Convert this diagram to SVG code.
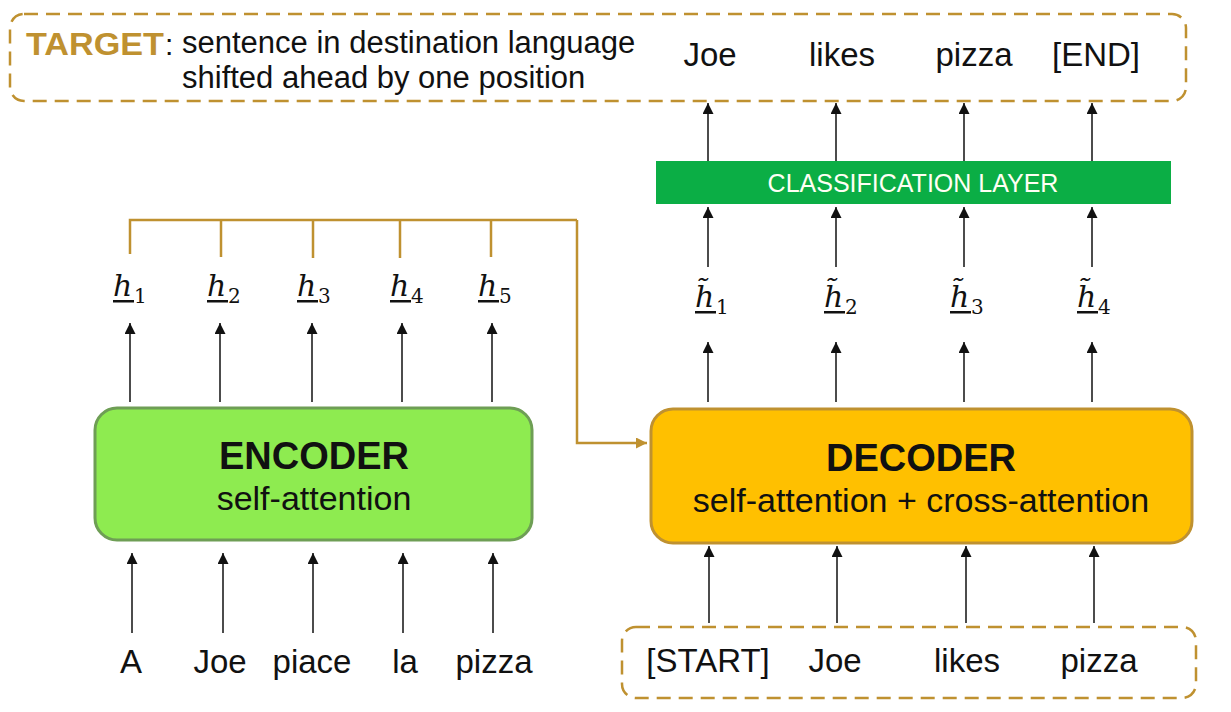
<svg xmlns="http://www.w3.org/2000/svg" width="1231" height="712" viewBox="0 0 1231 712">
<defs>
<style>
.t{font-family:"Liberation Sans",Arial,sans-serif;fill:#111;}
.w{font-size:33px;text-anchor:middle;}
.b{font-weight:bold;font-size:38px;text-anchor:middle;}
.s{font-size:34px;text-anchor:middle;}
.h{font-family:"DejaVu Serif","Liberation Serif",serif;font-style:italic;font-size:30px;fill:#111;}
.sub{font-family:"DejaVu Serif","Liberation Serif",serif;font-size:20px;fill:#111;}
.ar{stroke:#111;stroke-width:1.5;fill:none;marker-end:url(#ah);}
.gold{stroke:#BF9130;stroke-width:2.5;fill:none;}
.dash{fill:none;stroke:#BF9130;stroke-width:2.5;stroke-dasharray:14 8;}
</style>
<marker id="ah" markerUnits="userSpaceOnUse" markerWidth="12" markerHeight="11" refX="11" refY="5.5" orient="auto"><path d="M0,0 L11,5.5 L0,11 z" fill="#111"/></marker>
<marker id="gh" markerUnits="userSpaceOnUse" markerWidth="12" markerHeight="11" refX="11" refY="5.5" orient="auto"><path d="M0,0 L11,5.5 L0,11 z" fill="#BF9130"/></marker>
</defs>
<rect width="1231" height="712" fill="#fff"/>

<g id="target">
<rect class="dash" x="10" y="14" width="1176" height="87" rx="14"/>
<text x="26" y="55" font-family="Liberation Sans,Arial,sans-serif" font-weight="bold" font-size="32" fill="#BF9130" textLength="138" lengthAdjust="spacingAndGlyphs">TARGET</text>
<text class="t" x="165" y="55" font-size="30">:</text>
<text class="t" x="182" y="53" font-size="31">sentence in destination language</text>
<text class="t" x="182" y="88" font-size="31">shifted ahead by one position</text>
<text class="t w" x="710" y="66">Joe</text>
<text class="t w" x="842" y="66">likes</text>
<text class="t w" x="974" y="66">pizza</text>
<text class="t w" x="1096" y="66">[END]</text>
</g>

<g id="classification">
<rect x="656" y="161" width="515" height="43" fill="#0BAE45"/>
<text x="913" y="192" font-family="Liberation Sans,Arial,sans-serif" font-size="25" fill="#FFFFF4" text-anchor="middle">CLASSIFICATION LAYER</text>
</g>

<g id="htilde">
<text class="h" x="695" y="307">h&#x303;</text><text class="sub" x="716" y="314">1</text><rect x="695" y="311" width="21" height="2.5" fill="#111"/>
<text class="h" x="824" y="307">h&#x303;</text><text class="sub" x="845" y="314">2</text><rect x="824" y="311" width="21" height="2.5" fill="#111"/>
<text class="h" x="950" y="307">h&#x303;</text><text class="sub" x="971" y="314">3</text><rect x="950" y="311" width="21" height="2.5" fill="#111"/>
<text class="h" x="1077" y="307">h&#x303;</text><text class="sub" x="1098" y="314">4</text><rect x="1077" y="311" width="21" height="2.5" fill="#111"/>
</g>

<g id="hlabels">
<text class="h" x="113" y="296">h</text><text class="sub" x="134" y="303">1</text><rect x="113" y="300" width="21" height="2.5" fill="#111"/>
<text class="h" x="207" y="296">h</text><text class="sub" x="228" y="303">2</text><rect x="207" y="300" width="21" height="2.5" fill="#111"/>
<text class="h" x="297" y="296">h</text><text class="sub" x="318" y="303">3</text><rect x="297" y="300" width="21" height="2.5" fill="#111"/>
<text class="h" x="390" y="296">h</text><text class="sub" x="411" y="303">4</text><rect x="390" y="300" width="21" height="2.5" fill="#111"/>
<text class="h" x="478" y="296">h</text><text class="sub" x="499" y="303">5</text><rect x="478" y="300" width="21" height="2.5" fill="#111"/>
</g>

<g id="encoder">
<rect x="95" y="408" width="437" height="132" rx="22" fill="#8EEB50" stroke="#6E9E55" stroke-width="3"/>
<text class="t b" x="314" y="469">ENCODER</text>
<text class="t s" x="314" y="510">self-attention</text>
</g>

<g id="decoder">
<rect x="651" y="409" width="541" height="134" rx="22" fill="#FFC000" stroke="#BF9130" stroke-width="3"/>
<text class="t b" x="921" y="471">DECODER</text>
<text class="t s" x="921" y="512">self-attention + cross-attention</text>
</g>

<g id="source">
<text class="t w" x="131" y="673">A</text>
<text class="t w" x="220" y="673">Joe</text>
<text class="t w" x="312" y="673">piace</text>
<text class="t w" x="405" y="673">la</text>
<text class="t w" x="494" y="673">pizza</text>
</g>

<g id="decoder-input">
<rect class="dash" x="622" y="627" width="574" height="71" rx="14"/>
<text class="t w" x="708" y="672">[START]</text>
<text class="t w" x="835" y="672">Joe</text>
<text class="t w" x="967" y="672">likes</text>
<text class="t w" x="1099" y="672">pizza</text>
</g>

<g id="connectors">
<path class="ar" d="M132,633 V553"/>
<path class="ar" d="M223,633 V553"/>
<path class="ar" d="M313,633 V553"/>
<path class="ar" d="M403,633 V553"/>
<path class="ar" d="M493,633 V553"/>
<path class="ar" d="M130,402 V323"/>
<path class="ar" d="M220,402 V323"/>
<path class="ar" d="M312,402 V323"/>
<path class="ar" d="M402,402 V323"/>
<path class="ar" d="M492,402 V323"/>
<path class="gold" d="M130,254 V220 H577 M221,220 V257 M313,220 V258 M400,220 V258 M491,220 V257"/>
<path class="gold" d="M577,220 V443 H647" stroke-width="2" marker-end="url(#gh)"/>
<path class="ar" d="M709,623 V546"/>
<path class="ar" d="M837,623 V546"/>
<path class="ar" d="M966,623 V546"/>
<path class="ar" d="M1094,623 V546"/>
<path class="ar" d="M708,402 V342"/>
<path class="ar" d="M836,402 V342"/>
<path class="ar" d="M964,402 V342"/>
<path class="ar" d="M1092,402 V342"/>
<path class="ar" d="M708,267 V207"/>
<path class="ar" d="M836,267 V207"/>
<path class="ar" d="M964,267 V207"/>
<path class="ar" d="M1092,267 V207"/>
<path class="ar" d="M708,161 V103"/>
<path class="ar" d="M836,161 V103"/>
<path class="ar" d="M964,161 V103"/>
<path class="ar" d="M1092,161 V103"/>
</g>
</svg>
